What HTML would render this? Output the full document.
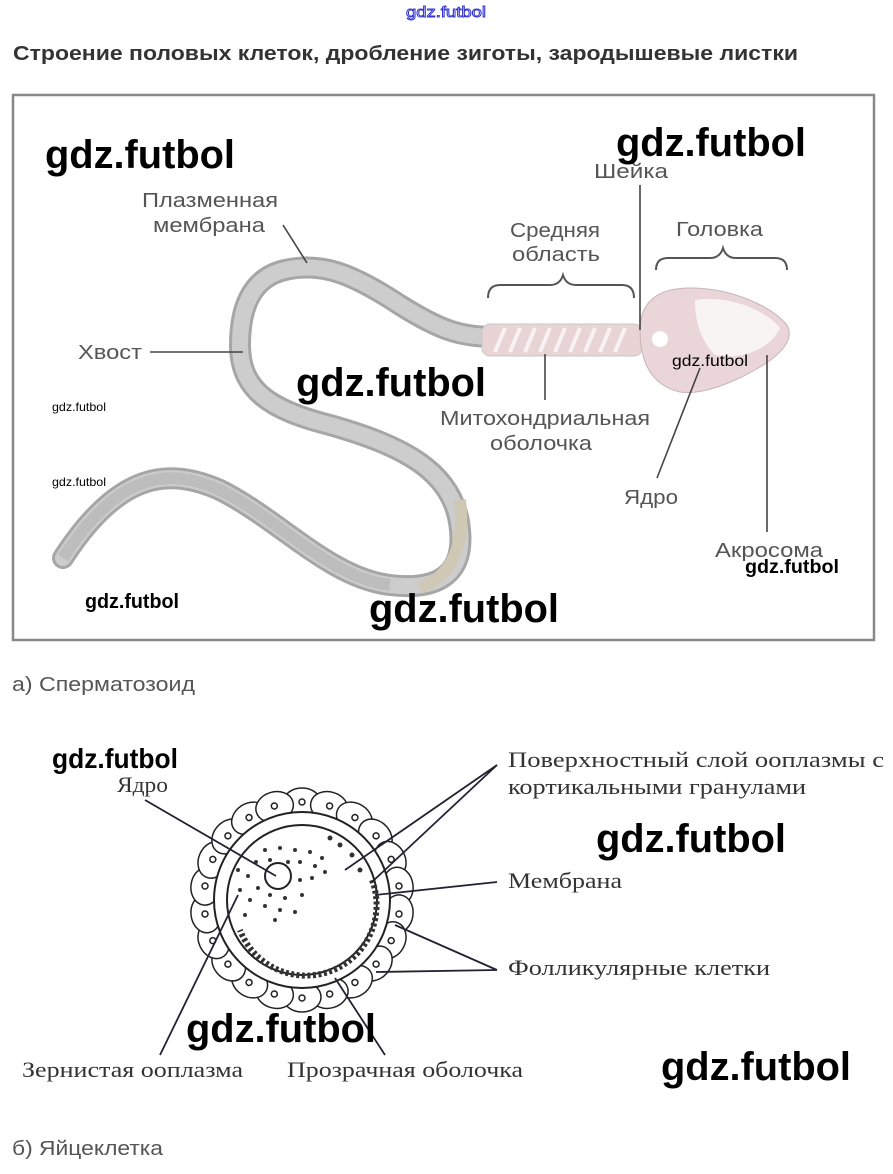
<!DOCTYPE html>
<html><head><meta charset="utf-8"><style>
html,body{margin:0;padding:0;background:#fff;}
svg{display:block;}
</style></head><body>
<svg width="893" height="1174" viewBox="0 0 893 1174" xmlns="http://www.w3.org/2000/svg" font-family="Liberation Sans, sans-serif">
<rect width="893" height="1174" fill="#fff"/>
<text x="406" y="17" font-size="15" fill="#fff" stroke="#3333cc" stroke-width="0.9" textLength="80" lengthAdjust="spacingAndGlyphs">gdz.futbol</text>
<text x="13" y="60" font-size="20" font-weight="bold" fill="#333" textLength="785" lengthAdjust="spacingAndGlyphs">Строение половых клеток, дробление зиготы, зародышевые листки</text>
<rect x="13" y="95" width="861" height="545" fill="#fff" stroke="#888" stroke-width="2.5"/>

<!-- tail -->
<path d="M495,337 C460,337 440,330 400,305 C350,272 320,262 285,270 C250,278 240,310 240,345 C240,390 270,410 330,425 C400,445 455,470 460,530 C465,580 430,590 390,585 C330,578 280,520 220,490 C170,468 120,470 63,558" fill="none" stroke="#a6a6a6" stroke-width="22" stroke-linecap="round"/>
<path d="M495,337 C460,337 440,330 400,305 C350,272 320,262 285,270 C250,278 240,310 240,345 C240,390 270,410 330,425 C400,445 455,470 460,530 C465,580 430,590 390,585 C330,578 280,520 220,490 C170,468 120,470 63,558" fill="none" stroke="#cdcdcd" stroke-width="16" stroke-linecap="round"/>
<path d="M390,585 C330,578 280,520 220,490 C170,468 120,470 63,558" fill="none" stroke="#bdbdbd" stroke-width="12"/>
<path d="M460,500 C465,540 455,575 420,588" fill="none" stroke="#cfc8b4" stroke-width="12"/>
<!-- midpiece -->
<rect x="482" y="324" width="160" height="32" rx="8" fill="#e8d4d4" stroke="#c8c8c8" stroke-width="1"/>
<g stroke="#fff" stroke-width="4" opacity="0.7">
<line x1="495" y1="352" x2="505" y2="328"/><line x1="510" y1="352" x2="520" y2="328"/><line x1="525" y1="352" x2="535" y2="328"/><line x1="540" y1="352" x2="550" y2="328"/><line x1="555" y1="352" x2="565" y2="328"/><line x1="570" y1="352" x2="580" y2="328"/><line x1="585" y1="352" x2="595" y2="328"/><line x1="600" y1="352" x2="610" y2="328"/><line x1="615" y1="352" x2="625" y2="328"/>
</g>
<!-- head -->
<path d="M640,330 C640,300 660,288 690,288 C730,288 770,305 787,325 C795,340 780,355 760,367 C730,385 700,395 680,392 C650,385 640,360 640,330Z" fill="#ead6d8" stroke="#c9b3b6" stroke-width="1"/>
<path d="M695,300 C730,295 765,310 780,328 C770,350 740,360 715,355 C700,340 695,320 695,300Z" fill="#f8f4f4"/>
<ellipse cx="660" cy="339" rx="8" ry="8" fill="#fff"/>
<!-- braces -->
<path d="M488,298 Q488,285 500,285 L550,285 Q560,285 563,275 Q566,285 576,285 L622,285 Q634,285 634,298" fill="none" stroke="#555" stroke-width="2"/>
<path d="M656,270 Q656,258 668,258 L710,258 Q720,258 723,248 Q726,258 736,258 L775,258 Q787,258 787,270" fill="none" stroke="#555" stroke-width="2"/>
<!-- leader lines -->
<g stroke="#444" stroke-width="1.6" fill="none">
<line x1="283" y1="225" x2="307" y2="263"/>
<line x1="150" y1="352" x2="243" y2="352"/>
<line x1="640" y1="185" x2="640" y2="330"/>
<line x1="545" y1="354" x2="545" y2="400"/>
<line x1="700" y1="368" x2="657" y2="478"/>
<line x1="767" y1="355" x2="767" y2="532"/>
</g>
<g font-size="20" fill="#555" lengthAdjust="spacingAndGlyphs">
<text x="142" y="207" textLength="136" lengthAdjust="spacingAndGlyphs">Плазменная</text>
<text x="153" y="232" textLength="112" lengthAdjust="spacingAndGlyphs">мембрана</text>
<text x="78" y="359" textLength="64" lengthAdjust="spacingAndGlyphs">Хвост</text>
<text x="594" y="178" textLength="74" lengthAdjust="spacingAndGlyphs">Шейка</text>
<text x="510" y="237" textLength="90" lengthAdjust="spacingAndGlyphs">Средняя</text>
<text x="512" y="261" textLength="88" lengthAdjust="spacingAndGlyphs">область</text>
<text x="676" y="236" textLength="87" lengthAdjust="spacingAndGlyphs">Головка</text>
<text x="440" y="425" textLength="210" lengthAdjust="spacingAndGlyphs">Митохондриальная</text>
<text x="490" y="450" textLength="102" lengthAdjust="spacingAndGlyphs">оболочка</text>
<text x="624" y="504" textLength="54" lengthAdjust="spacingAndGlyphs">Ядро</text>
<text x="715" y="557" textLength="108" lengthAdjust="spacingAndGlyphs">Акросома</text>
</g>
<text x="12" y="691" font-size="20" fill="#555" textLength="183" lengthAdjust="spacingAndGlyphs">а) Сперматозоид</text>

<!-- egg -->
<g fill="#fff" stroke="#222" stroke-width="1.5">
<g id="c"><ellipse cx="302" cy="803" rx="19" ry="15"/><circle cx="302" cy="802" r="3"/></g>
<use href="#c" transform="rotate(16.36 302 900)"/><use href="#c" transform="rotate(32.7 302 900)"/><use href="#c" transform="rotate(49.1 302 900)"/><use href="#c" transform="rotate(65.5 302 900)"/><use href="#c" transform="rotate(81.8 302 900)"/><use href="#c" transform="rotate(98.2 302 900)"/><use href="#c" transform="rotate(114.5 302 900)"/><use href="#c" transform="rotate(130.9 302 900)"/><use href="#c" transform="rotate(147.3 302 900)"/><use href="#c" transform="rotate(163.6 302 900)"/><use href="#c" transform="rotate(180 302 900)"/><use href="#c" transform="rotate(196.4 302 900)"/><use href="#c" transform="rotate(212.7 302 900)"/><use href="#c" transform="rotate(229.1 302 900)"/><use href="#c" transform="rotate(245.5 302 900)"/><use href="#c" transform="rotate(261.8 302 900)"/><use href="#c" transform="rotate(278.2 302 900)"/><use href="#c" transform="rotate(294.5 302 900)"/><use href="#c" transform="rotate(310.9 302 900)"/><use href="#c" transform="rotate(327.3 302 900)"/><use href="#c" transform="rotate(343.6 302 900)"/>
<circle cx="302" cy="900" r="88" stroke-width="2"/>
<circle cx="302" cy="900" r="75" stroke-width="2"/>
</g>
<path d="M372,880 A70,70 0 0 1 240,930" fill="none" stroke="#333" stroke-width="6" stroke-dasharray="3 2.5"/>
<g fill="#333">
<circle cx="265" cy="850" r="2"/><circle cx="280" cy="848" r="2"/><circle cx="295" cy="850" r="2"/><circle cx="310" cy="852" r="2"/><circle cx="322" cy="858" r="2"/><circle cx="256" cy="862" r="2"/><circle cx="270" cy="860" r="2"/><circle cx="300" cy="862" r="2"/><circle cx="315" cy="866" r="2"/><circle cx="248" cy="876" r="2"/><circle cx="258" cy="888" r="2"/><circle cx="270" cy="895" r="2"/><circle cx="285" cy="898" r="2"/><circle cx="300" cy="880" r="2"/><circle cx="312" cy="878" r="2"/><circle cx="302" cy="895" r="2"/><circle cx="265" cy="906" r="2"/><circle cx="280" cy="910" r="2"/><circle cx="295" cy="912" r="2"/><circle cx="250" cy="900" r="2"/><circle cx="325" cy="872" r="2"/><circle cx="288" cy="862" r="2"/><circle cx="275" cy="920" r="2"/>
<circle cx="340" cy="845" r="2.5"/><circle cx="352" cy="855" r="2.5"/><circle cx="330" cy="838" r="2.5"/><circle cx="245" cy="915" r="2"/><circle cx="240" cy="890" r="2"/><circle cx="238" cy="870" r="2"/><circle cx="360" cy="870" r="2.5"/>
</g>
<circle cx="278" cy="876" r="13" fill="#fff" stroke="#222" stroke-width="2"/>
<g stroke="#223" stroke-width="1.8" fill="none">
<line x1="145" y1="800" x2="276" y2="876"/>
<line x1="497" y1="765" x2="345" y2="870"/>
<line x1="497" y1="765" x2="372" y2="882"/>
<line x1="497" y1="882" x2="375" y2="895"/>
<line x1="497" y1="970" x2="395" y2="925"/>
<line x1="497" y1="970" x2="376" y2="972"/>
<line x1="238" y1="895" x2="160" y2="1055"/>
<line x1="335" y1="978" x2="385" y2="1055"/>
</g>
<g font-family="Liberation Serif, serif" font-size="22" fill="#333">
<text x="117" y="792" textLength="51" lengthAdjust="spacingAndGlyphs">Ядро</text>
<text x="508" y="767" textLength="376" lengthAdjust="spacingAndGlyphs">Поверхностный  слой ооплазмы с</text>
<text x="508" y="794" textLength="298" lengthAdjust="spacingAndGlyphs">кортикальными гранулами</text>
<text x="508" y="888" textLength="114" lengthAdjust="spacingAndGlyphs">Мембрана</text>
<text x="508" y="975" textLength="262" lengthAdjust="spacingAndGlyphs">Фолликулярные клетки</text>
<text x="22" y="1077" textLength="221" lengthAdjust="spacingAndGlyphs">Зернистая ооплазма</text>
<text x="287" y="1077" textLength="236" lengthAdjust="spacingAndGlyphs">Прозрачная оболочка</text>
</g>
<text x="12" y="1155" font-size="20" fill="#555" textLength="151" lengthAdjust="spacingAndGlyphs">б) Яйцеклетка</text>

<!-- watermarks -->
<g font-weight="bold" fill="#000">
<text x="45" y="168" font-size="40" textLength="190" lengthAdjust="spacingAndGlyphs">gdz.futbol</text>
<text x="616" y="156" font-size="40" textLength="190" lengthAdjust="spacingAndGlyphs">gdz.futbol</text>
<text x="296" y="396" font-size="40" textLength="190" lengthAdjust="spacingAndGlyphs">gdz.futbol</text>
<text x="369" y="622" font-size="40" textLength="190" lengthAdjust="spacingAndGlyphs">gdz.futbol</text>
<text x="596" y="852" font-size="40" textLength="190" lengthAdjust="spacingAndGlyphs">gdz.futbol</text>
<text x="186" y="1042" font-size="40" textLength="190" lengthAdjust="spacingAndGlyphs">gdz.futbol</text>
<text x="661" y="1080" font-size="40" textLength="190" lengthAdjust="spacingAndGlyphs">gdz.futbol</text>
<text x="52" y="768" font-size="28" textLength="126" lengthAdjust="spacingAndGlyphs">gdz.futbol</text>
<text x="85" y="608" font-size="20" textLength="94" lengthAdjust="spacingAndGlyphs">gdz.futbol</text>
<text x="745" y="573" font-size="19" textLength="94" lengthAdjust="spacingAndGlyphs">gdz.futbol</text>
<text x="672" y="366" font-size="16" textLength="76" lengthAdjust="spacingAndGlyphs" font-weight="normal">gdz.futbol</text>
<text x="52" y="411" font-size="12" textLength="54" lengthAdjust="spacingAndGlyphs" font-weight="normal">gdz.futbol</text>
<text x="52" y="486" font-size="12" textLength="54" lengthAdjust="spacingAndGlyphs" font-weight="normal">gdz.futbol</text>
</g>
</svg>
</body></html>
